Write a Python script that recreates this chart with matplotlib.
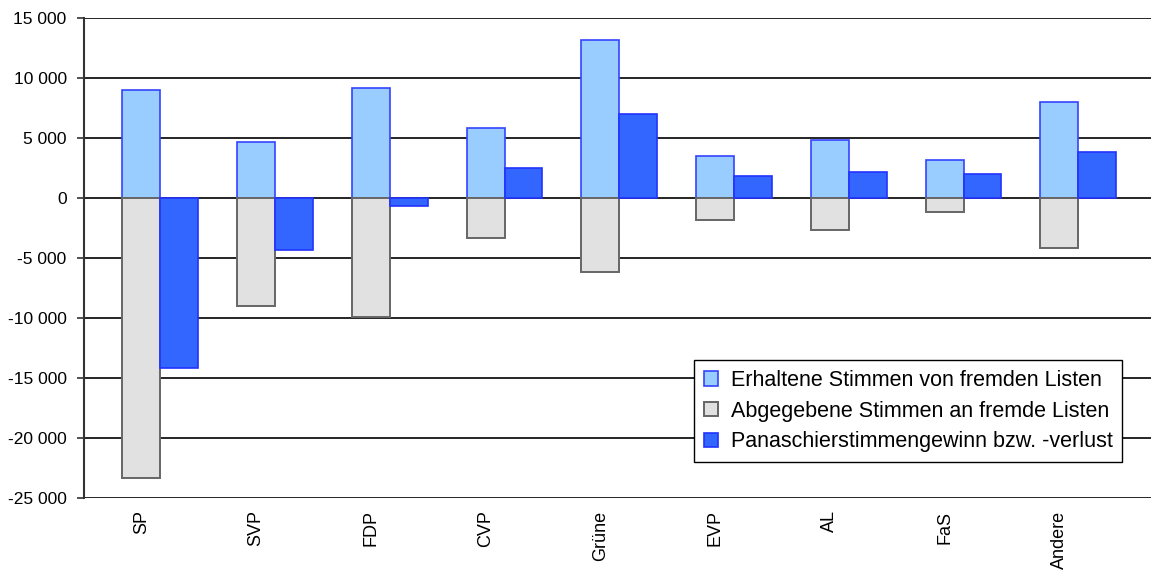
import numpy as np
import matplotlib
matplotlib.use("Agg")
import matplotlib.pyplot as plt
from matplotlib.ticker import FuncFormatter

plt.rcParams['font.family'] = ['Liberation Sans', 'DejaVu Sans']

parties = ["SP", "SVP", "FDP", "CVP", "Grüne", "EVP", "AL", "FaS", "Andere"]
erhalten = [9000, 4650, 9150, 5830, 13170, 3500, 4830, 3170, 7970]
abgegeben = [-23300, -9000, -9920, -3330, -6170, -1830, -2700, -1190, -4190]
saldo = [-14200, -4330, -670, 2500, 6970, 1830, 2140, 1970, 3830]

labels = ["Erhaltene Stimmen von fremden Listen",
          "Abgegebene Stimmen an fremde Listen",
          "Panaschierstimmengewinn bzw. -verlust"]

fig = plt.figure(figsize=(11.51, 5.76), dpi=100)
ax = fig.add_axes([84/1151, 1-498/576, (1151-84)/1151, 480/576])

x = np.arange(len(parties))
w = 0.33
ax.bar(x, erhalten, w, color="#99CCFF", edgecolor="#3344FF", linewidth=1.2, label=labels[0], zorder=3)
ax.bar(x, abgegeben, w, color="#E1E1E1", edgecolor="#666666", linewidth=1.4, label=labels[1], zorder=3)
ax.bar(x + w, saldo, w, color="#3366FF", edgecolor="#2233FF", linewidth=1.2, label=labels[2], zorder=3)

ax.set_ylim(-25000, 15000)
ax.set_xlim(-0.5, (1151-84)/114.75 - 0.5)
ax.set_yticks(np.arange(-25000, 15001, 5000))
ax.yaxis.set_major_formatter(FuncFormatter(lambda v, p: f"{int(v):,}".replace(",", " ")))
ax.yaxis.grid(True, color="black", linewidth=1.2, zorder=1)
ax.set_axisbelow(True)

ax.set_xticks(x)
ax.set_xticklabels(parties, rotation=90, fontsize=13)
ax.tick_params(axis="x", length=0, pad=9)
ax.tick_params(axis="y", length=5, width=1.2, color="#333333", labelsize=12.5, pad=7.5)

for s in ["top", "right", "bottom"]:
    ax.spines[s].set_visible(False)
ax.spines["left"].set_color("#333333")
ax.spines["left"].set_linewidth(1.5)

leg = ax.legend(loc="lower right", bbox_to_anchor=(0.973, 0.075), fontsize=15.5,
                frameon=True, fancybox=False, edgecolor="black", framealpha=1,
                handlelength=0.65, handleheight=0.65, handletextpad=0.6,
                borderpad=0.45, labelspacing=0.45, borderaxespad=0)
leg.get_frame().set_linewidth(1.0)

fig.savefig("out.png", dpi=100)
